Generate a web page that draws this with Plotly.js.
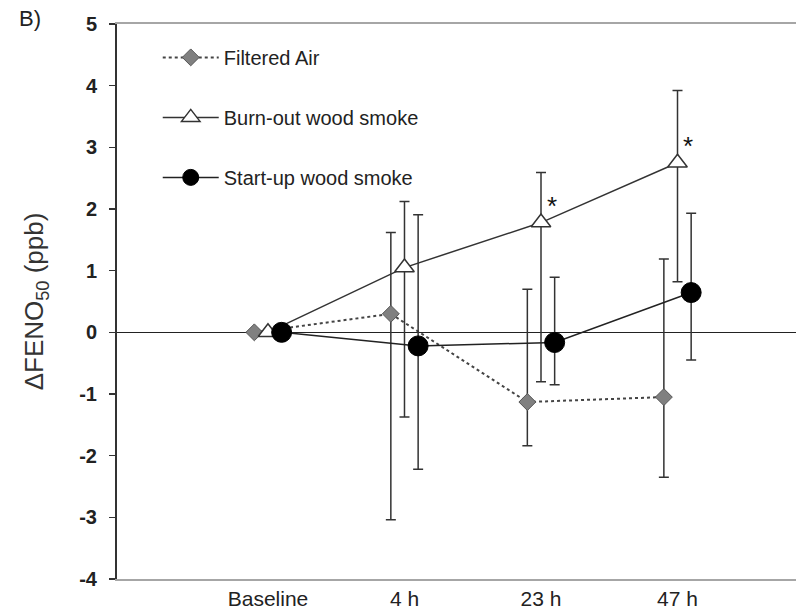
<!DOCTYPE html>
<html>
<head>
<meta charset="utf-8">
<script src="https://cdn.plot.ly/plotly-3.0.1.min.js"></script>
<style>html,body{margin:0;padding:0;background:#fff;}#chart{width:796px;height:610px;}</style>
</head>
<body>
<div id="chart"></div>
<script>
// Categories (time points)
const categories = ["Baseline", "4 h", "23 h", "47 h"];

// Filtered Air
const filteredMean  = [0, 0.30, -1.13, -1.05];
const filteredUpper = [0, 1.62, 0.70, 1.19];
const filteredLower = [0, -3.04, -1.84, -2.35];

// Burn-out wood smoke
const burnoutMean  = [0, 1.05, 1.78, 2.75];
const burnoutUpper = [0, 2.12, 2.59, 3.92];
const burnoutLower = [0, -1.375, -0.80, 0.82];

// Start-up wood smoke
const startupMean  = [0, -0.22, -0.165, 0.645];
const startupUpper = [0, 1.905, 0.895, 1.93];
const startupLower = [0, -2.22, -0.85, -0.45];

// Significance markers on burn-out series
const sigIndex = [2, 3];

const yTicks = [-4, -3, -2, -1, 0, 1, 2, 3, 4, 5];
const yTickText = ["-4", "-3", "-2", "-1", "0", "1", "2", "3", "4", "5"];

const idx = categories.map((_, i) => i);
const off = 0.1;

function errs(mean, up, lo) {
  return {
    type: 'data', symmetric: false,
    array: mean.map((m, i) => up[i] - m),
    arrayminus: mean.map((m, i) => m - lo[i]),
    color: '#333', thickness: 1.5, width: 5
  };
}

const traces = [
  {
    x: idx.map(i => i - off), y: filteredMean, name: 'Filtered Air',
    legendgroup: 'a', mode: 'lines+markers', type: 'scatter',
    line: {color: '#444', width: 2, dash: 'dot'},
    marker: {symbol: 'diamond', size: 13, color: '#808080', line: {color: '#555', width: 1}},
    error_y: errs(filteredMean, filteredUpper, filteredLower)
  },
  {
    x: idx, y: burnoutMean, name: 'Burn-out wood smoke',
    legendgroup: 'b', mode: 'lines+markers', type: 'scatter',
    line: {color: '#333', width: 1.5},
    marker: {symbol: 'triangle-up', size: 17, color: '#fff', line: {color: '#333', width: 1.5}},
    error_y: errs(burnoutMean, burnoutUpper, burnoutLower)
  },
  {
    x: idx.map(i => i + off), y: startupMean, name: 'Start-up wood smoke',
    legendgroup: 'c', mode: 'lines+markers', type: 'scatter',
    line: {color: '#222', width: 1.5},
    marker: {symbol: 'circle', size: 20, color: '#000', line: {color: '#000', width: 1}},
    error_y: errs(startupMean, startupUpper, startupLower)
  }
];

const annotations = sigIndex.map(i => ({
  x: i + 0.08, y: burnoutMean[i] + 0.38, xref: 'x', yref: 'y',
  text: '*', showarrow: false, xanchor: 'center', yanchor: 'middle', yshift: -7,
  font: {family: 'Arial, Liberation Sans, sans-serif', size: 26, color: '#111'}
}));
annotations.push({
  x: -0.148, y: 1.01, xref: 'paper', yref: 'paper', text: 'B)', showarrow: false,
  xanchor: 'left', yanchor: 'middle',
  font: {family: 'Arial, Liberation Sans, sans-serif', size: 22, color: '#222'}
});

const layout = {
  width: 796, height: 610,
  margin: {l: 117, r: 0, t: 24, b: 31},
  paper_bgcolor: '#fff', plot_bgcolor: '#fff',
  font: {family: 'Arial, Liberation Sans, sans-serif', color: '#222'},
  showlegend: true,
  legend: {
    x: 0.06, y: 0.975, xanchor: 'left', yanchor: 'top',
    bgcolor: 'rgba(0,0,0,0)', borderwidth: 0,
    font: {size: 20, color: '#222'},
    tracegroupgap: 31, itemwidth: 56, traceorder: 'grouped'
  },
  xaxis: {
    range: [-1.106, 3.868],
    tickvals: idx, ticktext: categories,
    showgrid: false, zeroline: false,
    showline: true, linecolor: '#a6a6a6', linewidth: 2, mirror: true,
    ticks: '', ticklabelstandoff: 0,
    tickfont: {size: 21, color: '#222'}
  },
  yaxis: {
    range: [-4, 5], tickvals: yTicks, ticktext: yTickText,
    showgrid: false,
    zeroline: true, zerolinecolor: '#222', zerolinewidth: 1.5,
    showline: true, linecolor: '#333', linewidth: 2,
    ticks: 'outside', ticklen: 6, tickcolor: '#333', tickwidth: 1.5,
    ticklabelstandoff: 8,
    tickfont: {size: 20, color: '#222', weight: 'bold'},
    title: {text: 'ΔFENO<sub>50</sub> (ppb)', standoff: 28,
            font: {size: 26, color: '#333'}}
  },
  annotations: annotations
};

Plotly.newPlot('chart', traces, layout, {staticPlot: true, displayModeBar: false});
</script>
</body>
</html>
